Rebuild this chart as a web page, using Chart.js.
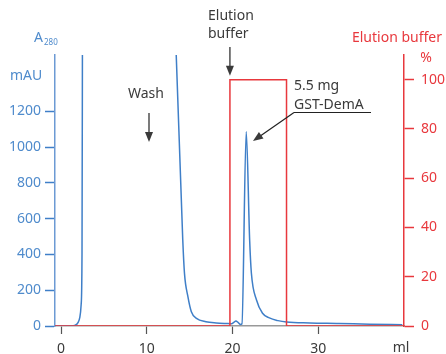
<!DOCTYPE html>
<html>
<head>
<meta charset="utf-8">
<script src="https://cdn.jsdelivr.net/npm/chart.js@4.4.0/dist/chart.umd.min.js"></script>
<style>
    html, body { margin: 0; padding: 0; background: #fff; }
    #wrap { width: 446px; height: 354px; }
</style>
</head>
<body>
<div id="wrap"><canvas id="chart" width="446" height="354"></canvas></div>
<script>
// UV trace (A280, mAU) against volume (ml)
const volumeMl = [-0.7, 1.2, 1.6, 2.0, 2.2, 2.35, 2.45, 2.5, 2.55, 12.5, 13.3, 14.2, 14.4, 14.8, 15.2, 15.8, 16.9, 18.1, 19.3, 19.9,
    20.15, 20.4, 20.65, 20.9, 21.1, 21.6, 22.0, 22.2, 22.8, 23.5, 24.3, 25.3, 26.3, 29, 32.4, 36, 39.8];
const absorbance = [0, 0, 3, 20, 50, 120, 400, 1600, 3000, 3000, 1700, 480, 294, 164, 80, 43, 24, 17, 14, 13,
    20, 28, 20, 9, 12, 1086, 480, 296, 145, 71, 45, 30, 22, 17, 14, 10, 7];

// elution buffer step (%)
const bufferMl = [-0.7, 19.7, 19.7, 26.3, 26.3, 40];
const bufferPct = [0, 0, 100, 100, 0, 0];

const xTicks = [0, 10, 20, 30];
const absTicks = [0, 200, 400, 600, 800, 1000, 1200];
const pctTicks = [0, 20, 40, 60, 80, 100];

const BLUE = '#3f7fc8';
const BLUE_TXT = '#4f8bcc';
const RED = '#e8383d';
const GRAY_TXT = '#3a3a3a';
const FONT = '"Noto Sans", "DejaVu Sans", sans-serif';

const arrow = (ctx, x1, y1, x2, y2) => {
    const a = Math.atan2(y2 - y1, x2 - x1);
    const len = 10, w = 4;
    ctx.beginPath();
    ctx.moveTo(x1, y1);
    ctx.lineTo(x2 - Math.cos(a) * len * 0.8, y2 - Math.sin(a) * len * 0.8);
    ctx.stroke();
    ctx.beginPath();
    ctx.moveTo(x2, y2);
    ctx.lineTo(x2 - Math.cos(a) * len - Math.sin(a) * w, y2 - Math.sin(a) * len + Math.cos(a) * w);
    ctx.lineTo(x2 - Math.cos(a) * len + Math.sin(a) * w, y2 - Math.sin(a) * len - Math.cos(a) * w);
    ctx.closePath();
    ctx.fill();
};

const notes = {
    id: 'notes',
    afterDraw(chart) {
        const { ctx } = chart;
        const { x, y2 } = chart.scales;
        ctx.save();
        ctx.textBaseline = 'middle';

        // left axis title
        ctx.fillStyle = BLUE_TXT;
        ctx.textAlign = 'left';
        ctx.font = '14px ' + FONT;
        ctx.fillText('A', 34, 38);
        ctx.fillText('mAU', 10, 76);
        ctx.font = '8px ' + FONT;
        ctx.fillText('280', 44, 43);

        // right axis title
        ctx.fillStyle = RED;
        ctx.font = '14px ' + FONT;
        ctx.textAlign = 'right';
        ctx.fillText('Elution buffer', 442, 38);
        ctx.textAlign = 'center';
        ctx.fillText('%', 426, 58);

        // annotations
        ctx.fillStyle = GRAY_TXT;
        ctx.strokeStyle = '#222';
        ctx.lineWidth = 1.2;
        ctx.textAlign = 'center';
        ctx.fillText('Wash', 146, 94);
        arrow(ctx, 149, 113, 149, 142);

        const xe = x.getPixelForValue(bufferMl[1]);
        ctx.textAlign = 'left';
        ctx.fillText('Elution', 208, 16);
        ctx.fillText('buffer', 208, 34);
        arrow(ctx, xe, 47, xe, y2.getPixelForValue(100) - 4);

        ctx.fillText('5.5 mg', 294, 86);
        ctx.fillText('GST-DemA', 294, 105);
        ctx.beginPath();
        ctx.moveTo(294, 112.5);
        ctx.lineTo(371, 112.5);
        ctx.stroke();
        arrow(ctx, 294, 112.5, 253, 141);

        ctx.textAlign = 'center';
        ctx.fillText('ml', 401, 348);
        ctx.restore();
    },
};

const plain = v => String(v);

new Chart(document.querySelector('#chart'), {
    type: 'line',
    data: {
        datasets: [
            {
                label: 'Elution buffer',
                data: bufferMl.map((v, i) => ({ x: v, y: bufferPct[i] })),
                yAxisID: 'y2',
                borderColor: RED,
                borderWidth: 1.5,
                pointRadius: 0,
                tension: 0,
            },
            {
                label: 'A280',
                data: volumeMl.map((v, i) => ({ x: v, y: absorbance[i] })),
                yAxisID: 'y',
                borderColor: BLUE,
                borderWidth: 1.5,
                pointRadius: 0,
                cubicInterpolationMode: 'monotone',
            },
        ],
    },
    options: {
        responsive: false,
        animation: false,
        layout: { padding: { top: 55, left: 0, right: 0, bottom: 0 } },
        plugins: { legend: { display: false }, tooltip: { enabled: false } },
        scales: {
            x: {
                type: 'linear',
                min: -0.7,
                max: 40,
                afterBuildTicks: s => { s.ticks = xTicks.map(v => ({ value: v })); },
                afterFit: s => { s.height = 28; },
                grid: { drawOnChartArea: false, tickLength: 8, tickColor: '#555', tickWidth: 1.2 },
                border: { color: '#999', width: 1.5 },
                ticks: { color: GRAY_TXT, padding: 7, callback: plain, font: { family: FONT, size: 14 } },
            },
            y: {
                position: 'left',
                min: 0,
                max: 1514,
                afterBuildTicks: s => { s.ticks = absTicks.map(v => ({ value: v })); },
                afterFit: s => { s.width = 55; },
                grid: { drawOnChartArea: false, tickLength: 10, tickColor: BLUE, tickWidth: 1.5 },
                border: { color: '#6c9ad4', width: 1.5 },
                ticks: { color: BLUE_TXT, padding: 4, callback: plain, font: { family: FONT, size: 14 } },
            },
            y2: {
                position: 'right',
                min: 0,
                max: 110,
                afterBuildTicks: s => { s.ticks = pctTicks.map(v => ({ value: v })); },
                afterFit: s => { s.width = 42; },
                grid: { drawOnChartArea: false, tickLength: 10, tickColor: RED, tickWidth: 1.5 },
                border: { color: RED, width: 1.5 },
                ticks: { color: RED, padding: 7, callback: plain, font: { family: FONT, size: 14 } },
            },
        },
    },
    plugins: [notes],
});
</script>
</body>
</html>
